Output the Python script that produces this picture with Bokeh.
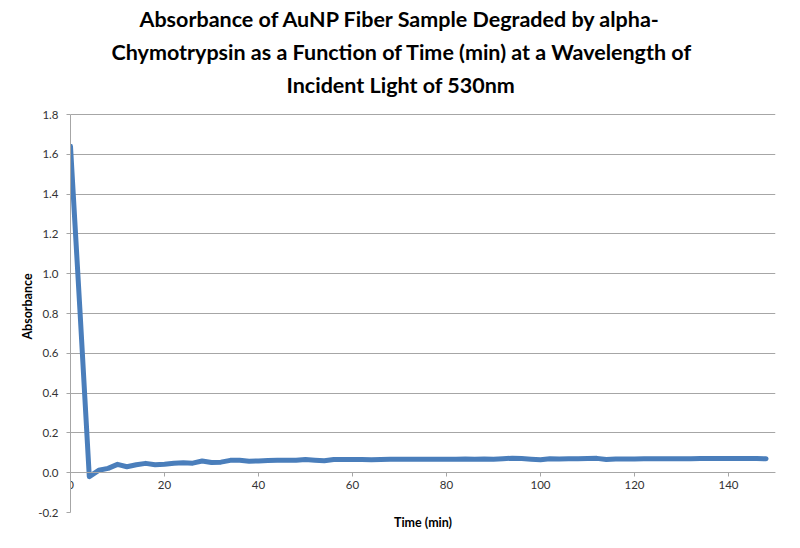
from bokeh.plotting import figure
from bokeh.models import FixedTicker, NumeralTickFormatter, Range1d, Title, LinearAxis
from bokeh.embed import file_html
from bokeh.resources import INLINE

# Data (time in minutes, absorbance)
time_min = [0, 2, 4, 6, 8, 10, 12, 14, 16, 18, 20, 22, 24, 26, 28, 30, 32, 34, 36, 38,
            40, 42, 44, 46, 48, 50, 52, 54, 56, 58, 60, 62, 64, 66, 68, 70, 72, 74, 76, 78,
            80, 82, 84, 86, 88, 90, 92, 94, 96, 98, 100, 102, 104, 106, 108, 110, 112, 114, 116, 118,
            120, 122, 124, 126, 128, 130, 132, 134, 136, 138, 140, 142, 144, 146, 148]
absorbance = [1.64, 0.82, -0.02, 0.012, 0.022, 0.042, 0.030, 0.040, 0.047, 0.040,
              0.043, 0.048, 0.050, 0.048, 0.059, 0.051, 0.053, 0.062, 0.062, 0.058,
              0.059, 0.061, 0.063, 0.062, 0.062, 0.066, 0.063, 0.060, 0.066, 0.066,
              0.066, 0.066, 0.065, 0.066, 0.067, 0.067, 0.068, 0.068, 0.067, 0.067,
              0.068, 0.068, 0.069, 0.068, 0.069, 0.067, 0.070, 0.073, 0.071, 0.068,
              0.065, 0.070, 0.069, 0.070, 0.070, 0.071, 0.072, 0.066, 0.069, 0.069,
              0.069, 0.070, 0.070, 0.070, 0.070, 0.070, 0.070, 0.071, 0.071, 0.071,
              0.071, 0.071, 0.071, 0.071, 0.070]

x_ticks = [0, 20, 40, 60, 80, 100, 120, 140]
y_ticks = [-0.2, 0.0, 0.2, 0.4, 0.6, 0.8, 1.0, 1.2, 1.4, 1.6, 1.8]

title_lines = ["Absorbance of AuNP Fiber Sample Degraded by alpha-",
               "Chymotrypsin as a Function of Time (min) at a Wavelength of",
               "Incident Light of 530nm"]
# horizontal offsets (px from the plot-area left edge) that centre each line on the page
title_offsets = [69, 41, 216]
x_label = "Time (min)"
y_label = "Absorbance"

FONT = "Lato"
GRAY = "#a6a6a6"
TXT = "#333333"

# the plot area reaches a little above 1.8 (no outline there), so the axis is bounded
p = figure(width=790, height=540, output_backend="svg", toolbar_location=None,
           x_range=Range1d(0, 150), y_range=Range1d(-0.2, 1.8704),
           min_border_left=70, min_border_right=15, min_border_bottom=28, min_border_top=100)

p.outline_line_color = None
p.background_fill_color = "white"
p.border_fill_color = "white"

# title lines, added from the one nearest the plot outward
for line, off in reversed(list(zip(title_lines, title_offsets))):
    t = Title(text=line, align="left", offset=off, text_font=FONT, text_font_size="21.5px",
              text_font_style="bold", text_color="#000000", standoff=5)
    p.add_layout(t, "above")

p.line(time_min, absorbance, line_color="#4a7ebb", line_width=5,
       line_join="round", line_cap="round")

# x axis crossing at y = 0
xa = p.xaxis[0]
xa.fixed_location = 0
xa.ticker = FixedTicker(ticks=x_ticks)
xa.minor_tick_line_color = None
xa.major_tick_in = 0
xa.major_tick_out = 4
xa.axis_line_color = GRAY
xa.major_tick_line_color = GRAY
xa.major_label_text_font = FONT
xa.major_label_text_font_size = "11.5px"
xa.major_label_text_color = TXT
xa.major_label_standoff = 4

# axis carrying only the x title, under the plot area
xt = LinearAxis(ticker=FixedTicker(ticks=[]), axis_label=x_label,
                axis_line_color=None, major_tick_line_color=None,
                minor_tick_line_color=None, major_label_text_font_size="0px",
                axis_label_text_font=FONT, axis_label_text_font_size="12.5px",
                axis_label_text_font_style="bold", axis_label_text_color="#000000",
                axis_label_standoff=2, major_label_standoff=0)
p.add_layout(xt, "below")

ya = p.yaxis[0]
ya.bounds = (y_ticks[0], y_ticks[-1])
ya.ticker = FixedTicker(ticks=y_ticks)
ya.formatter = NumeralTickFormatter(format="0.0")
ya.minor_tick_line_color = None
ya.major_tick_in = 0
ya.major_tick_out = 4
ya.axis_line_color = GRAY
ya.major_tick_line_color = GRAY
ya.major_label_text_font = FONT
ya.major_label_text_font_size = "11.5px"
ya.major_label_text_color = TXT
ya.major_label_standoff = 8
ya.axis_label = y_label
ya.axis_label_text_font = FONT
ya.axis_label_text_font_size = "12.5px"
ya.axis_label_text_font_style = "bold"
ya.axis_label_text_color = "#000000"
ya.axis_label_standoff = 0

p.xgrid.grid_line_color = None
p.ygrid.ticker = FixedTicker(ticks=y_ticks)
p.ygrid.grid_line_color = GRAY
p.ygrid.grid_line_width = 1

open("out.html", "w").write(file_html(p, INLINE))
